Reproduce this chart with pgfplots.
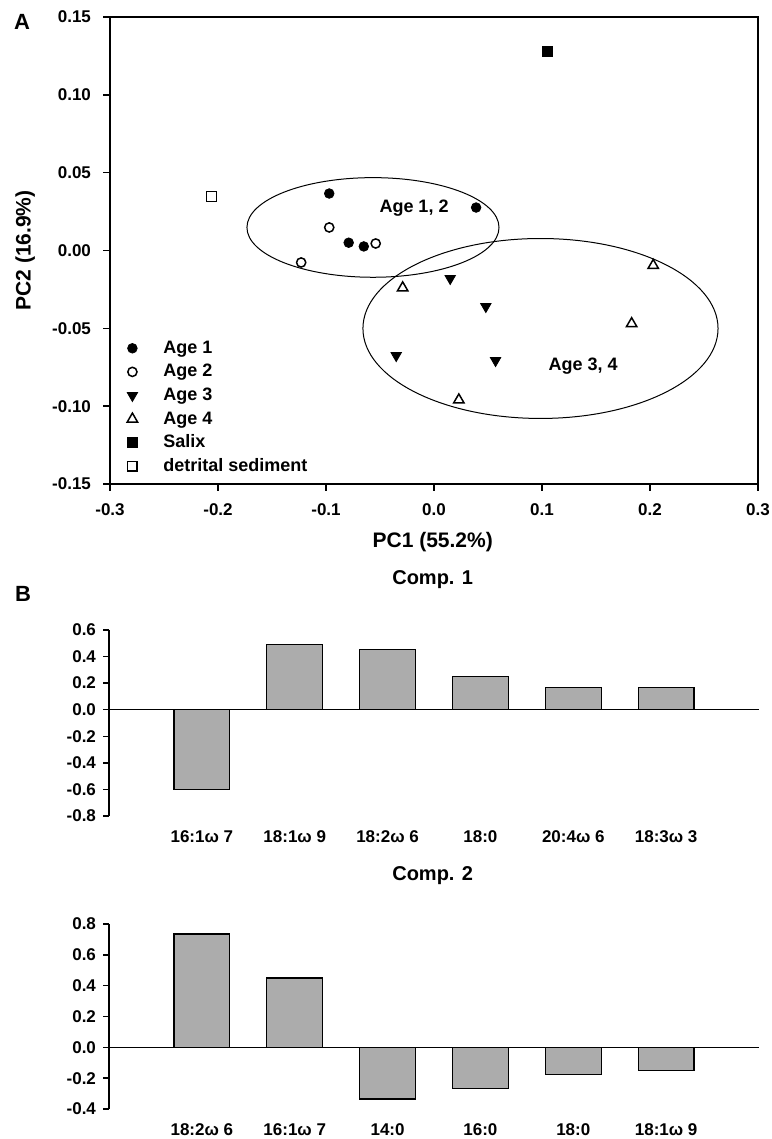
\documentclass[border=0pt]{standalone}
\usepackage{fontspec}
\setmainfont{Liberation Sans}
\usepackage{pgfplots}
\usepackage{pgfplotstable}
\pgfplotsset{compat=1.18}
\pgfplotsset{/pgf/number format/assume math mode=true}
\definecolor{bargray}{RGB}{172,172,172}

\pgfplotstableread{
x y
-0.097 0.0366
-0.079 0.0050
-0.065 0.0026
0.039 0.0276
}\ageone
\pgfplotstableread{
x y
-0.097 0.0148
-0.054 0.0045
-0.123 -0.0077
}\agetwo
\pgfplotstableread{
x y
0.015 -0.0180
0.048 -0.0360
-0.035 -0.0675
0.057 -0.0707
}\agethree
\pgfplotstableread{
x y
-0.029 -0.0240
0.203 -0.0096
0.183 -0.0470
0.023 -0.0960
}\agefour
\pgfplotstableread{
x y
0.105 0.128
}\salix
\pgfplotstableread{
x y
-0.206 0.0347
}\detrital
\pgfplotstableread{
x y
1 -0.600
2 0.490
3 0.455
4 0.250
5 0.165
6 0.165
}\compone
\pgfplotstableread{
x y
1 0.735
2 0.450
3 -0.335
4 -0.265
5 -0.175
6 -0.150
}\comptwo

\newcommand{\tickfont}{\bfseries\fontsize{8.5}{10}\selectfont}
\newcommand{\labfont}{\bfseries\fontsize{10.5}{12}\selectfont}
\newcommand{\legfont}{\bfseries\fontsize{9}{10}\selectfont}

\begin{document}
\begin{tikzpicture}
\useasboundingbox (0,0) rectangle (385.5pt,569.5pt);

\node[font=\bfseries\fontsize{11}{12}\selectfont] at (11pt,558.5pt) {A};
\node[font=\bfseries\fontsize{11}{12}\selectfont] at (11.5pt,272.5pt) {B};

% ---------------- Panel A ----------------
\begin{axis}[
  at={(55pt,327.5pt)}, anchor=south west,
  width=324pt, height=233.5pt, scale only axis,
  xmin=-0.3, xmax=0.3, ymin=-0.15, ymax=0.15,
  xtick={-0.3,-0.2,-0.1,0,0.1,0.2,0.3},
  ytick={-0.15,-0.10,-0.05,0,0.05,0.10,0.15},
  tick pos=left, tick align=outside, major tick length=3.5pt,
  axis line style={line width=0.8pt},
  tick style={line width=0.7pt, black},
  tick label style={font=\tickfont},
  x tick label style={yshift=-3pt, /pgf/number format/.cd, fixed, fixed zerofill, precision=1},
  y tick label style={xshift=-2.5pt, /pgf/number format/.cd, fixed, fixed zerofill, precision=2},
  scaled ticks=false,
  xlabel={PC1 (55.2\%)}, ylabel={PC2 (16.9\%)},
  label style={font=\labfont},
  xlabel style={at={(axis description cs:0.498,-0.124)}, anchor=center},
  ylabel style={at={(axis description cs:-0.131,0.5)}, anchor=center, rotate=0},
  legend style={draw=none, fill=none, font=\legfont, inner sep=0pt,
    at={(axis description cs:0,0.315)}, anchor=north west,
    row sep=0.8pt,
    nodes={inner sep=1.5pt, text height=6.5pt, text depth=1.5pt}},
  legend image code/.code={%
    \path[draw=none,fill=none] (0pt,-1pt) rectangle (25pt,1pt);
    \draw[#1] plot coordinates {(11pt,0pt)};},
  legend cell align=left,
  clip=false,
]
\addplot[only marks, mark=*, mark size=2.4pt, black] table {\ageone};
\addlegendentry{Age 1}
\addplot[only marks, mark=o, mark size=2.3pt, black, mark options={fill=white, line width=0.75pt}] table {\agetwo};
\addlegendentry{Age 2}
\addplot[only marks, mark=triangle*, mark size=3.0pt, black, mark options={rotate=180}] table {\agethree};
\addlegendentry{Age 3}
\addplot[only marks, mark=triangle, mark size=3.0pt, black, mark options={fill=white, line width=0.75pt}] table {\agefour};
\addlegendentry{Age 4}
\addplot[only marks, mark=square*, mark size=2.5pt, black] table {\salix};
\addlegendentry{Salix}
\addplot[only marks, mark=square, mark size=2.4pt, black, mark options={fill=white, line width=0.75pt}] table {\detrital};
\addlegendentry{detrital sediment}

\draw[line width=0.5pt] (axis cs:-0.0565,0.0148) ellipse [x radius=0.1167, y radius=0.032];
\draw[line width=0.5pt] (axis cs:0.0986,-0.0501) ellipse [x radius=0.1644, y radius=0.0578];
\node[font=\legfont] at (axis cs:-0.0185,0.027) {Age 1, 2};
\node[font=\legfont] at (axis cs:0.138,-0.0745) {Age 3, 4};
\end{axis}

% ---------------- Comp. 1 ----------------
\begin{axis}[
  at={(54.5pt,161.5pt)}, anchor=south west,
  width=325pt, height=93pt, scale only axis,
  xmin=0, xmax=7, ymin=-0.8, ymax=0.6,
  axis lines=left, axis line style={-, line width=0.8pt},
  x axis line style={draw=none},
  xtick={1,2,3,4,5,6},
  xticklabels={16:1ω 7, 18:1ω 9, 18:2ω 6, 18:0, 20:4ω 6, 18:3ω 3},
  x tick style={draw=none},
  ytick={-0.8,-0.6,-0.4,-0.2,0,0.2,0.4,0.6},
  tick align=outside, major tick length=3pt,
  y tick style={line width=0.7pt, black},
  tick label style={font=\tickfont},
  y tick label style={/pgf/number format/.cd, fixed, fixed zerofill, precision=1},
  x tick label style={yshift=-1pt},
  title={Comp. 1},
  title style={font=\bfseries\fontsize{10}{12}\selectfont, at={(axis description cs:0.498,1.204)}, anchor=center},
]
\addplot[ybar, bar width=0.6, fill=bargray, draw=black, line width=0.6pt] table {\compone};
\draw[line width=0.6pt] (axis cs:0,0) -- (axis cs:7,0);
\end{axis}

% ---------------- Comp. 2 ----------------
\begin{axis}[
  at={(54.5pt,15pt)}, anchor=south west,
  width=325pt, height=92.5pt, scale only axis,
  xmin=0, xmax=7, ymin=-0.4, ymax=0.8,
  axis lines=left, axis line style={-, line width=0.8pt},
  x axis line style={draw=none},
  xtick={1,2,3,4,5,6},
  xticklabels={18:2ω 6, 16:1ω 7, 14:0, 16:0, 18:0, 18:1ω 9},
  x tick style={draw=none},
  ytick={-0.4,-0.2,0,0.2,0.4,0.6,0.8},
  tick align=outside, major tick length=3pt,
  y tick style={line width=0.7pt, black},
  tick label style={font=\tickfont},
  y tick label style={/pgf/number format/.cd, fixed, fixed zerofill, precision=1},
  x tick label style={yshift=-1pt},
  title={Comp. 2},
  title style={font=\bfseries\fontsize{10}{12}\selectfont, at={(axis description cs:0.498,1.195)}, anchor=center},
]
\addplot[ybar, bar width=0.6, fill=bargray, draw=black, line width=0.6pt] table {\comptwo};
\draw[line width=0.6pt] (axis cs:0,0) -- (axis cs:7,0);
\end{axis}
\end{tikzpicture}
\end{document}
